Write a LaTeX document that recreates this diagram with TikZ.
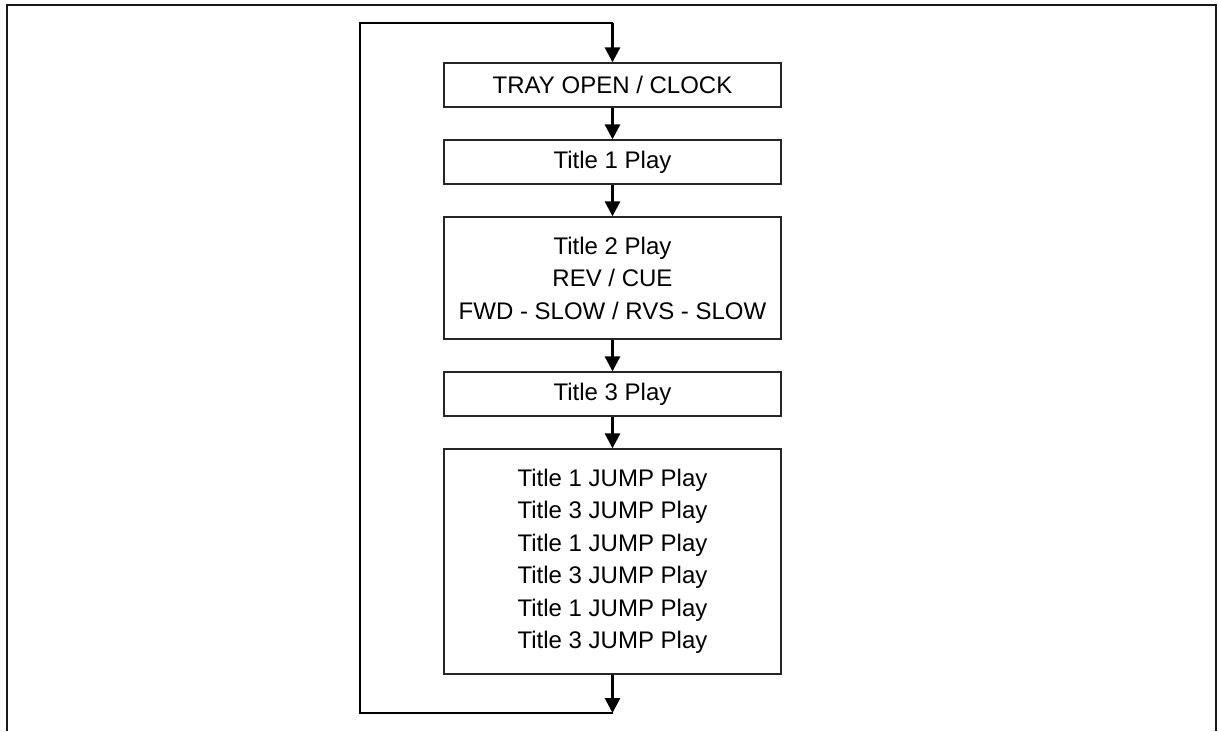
\documentclass[tikz,border=0pt]{standalone}
\usepackage{fontspec}
\setmainfont{Liberation Sans}
\usetikzlibrary{arrows.meta}
\tikzset{
  stepbox/.style={draw=black!85, line width=1.3pt, minimum width=337pt, inner sep=0pt, align=center},
  flow/.style={line width=2.8pt, -{Triangle[width=15pt,length=15pt]}}
}

\begin{document}
\begin{tikzpicture}[x=1pt, y=-1pt, every node/.style={font=\fontsize{24}{32.5}\selectfont}]
\useasboundingbox (0,0) rectangle (1220,731);
% Frame
\draw[line width=2pt, black!90] (6.5,731) -- (6.5,5) -- (1216,5) -- (1216,731);
% Steps
\node[stepbox, minimum height=44pt] (tray) at (612.5,85) {TRAY OPEN / CLOCK};
\node[stepbox, minimum height=44pt] (title1) at (612.5,162) {Title 1 Play};
\node[stepbox, minimum height=122pt] (title2) at (612.5,278) {Title 2 Play\\REV / CUE\\FWD - SLOW / RVS - SLOW};
\node[stepbox, minimum height=44pt] (title3) at (612.5,394) {Title 3 Play};
\node[stepbox, minimum height=225pt] (jump) at (612.5,561.5) {Title 1 JUMP Play\\Title 3 JUMP Play\\Title 1 JUMP Play\\Title 3 JUMP Play\\Title 1 JUMP Play\\Title 3 JUMP Play};
% Loop back
\coordinate (looptop) at (612.5,23);
\coordinate (looptl) at (360,23);
\coordinate (loopbl) at (360,713);
\coordinate (loopbot) at (612.5,713);
\draw[line width=1.3pt] (loopbot) -- (loopbl) -- (looptl) -- (looptop);
% Arrows
\draw[flow] (looptop) -- (tray);
\draw[flow] (tray) -- (title1);
\draw[flow] (title1) -- (title2);
\draw[flow] (title2) -- (title3);
\draw[flow] (title3) -- (jump);
\draw[flow] (jump) -- (loopbot);
\end{tikzpicture}
\end{document}
